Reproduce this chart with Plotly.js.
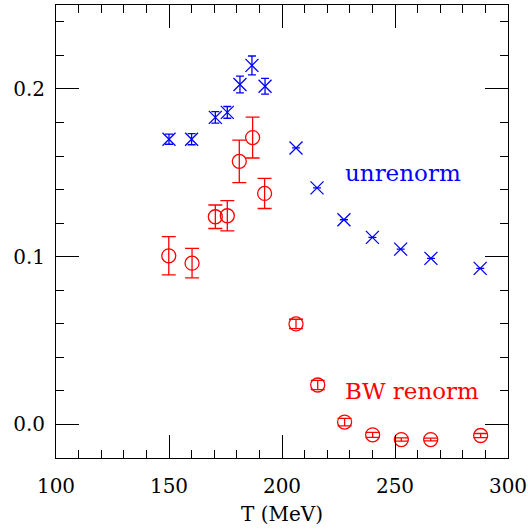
<!DOCTYPE html>
<html>
<head>
<meta charset="utf-8">
<script src="https://cdn.plot.ly/plotly-3.0.1.min.js"></script>
<style>html,body{margin:0;padding:0;background:#fff;}#chart{width:528px;height:529px;}</style>
</head>
<body>
<div id="chart"></div>
<script>
const tUnren = [150, 160, 170.5, 175.8, 181.4, 186.7, 192.5, 206.2, 215.5, 227.4, 240, 252.5, 265.9, 287.7];
const vUnren = [0.170, 0.170, 0.183, 0.186, 0.2026, 0.214, 0.2016, 0.1648, 0.141, 0.122, 0.1115, 0.1045, 0.099, 0.093];
const eUnren = [0.003, 0.0033, 0.0034, 0.0035, 0.005, 0.0056, 0.0047, 0, 0, 0, 0, 0, 0, 0];

const tBW = [149.9, 160.2, 170.5, 175.8, 181.1, 187.0, 192.3, 206.2, 215.8, 227.7, 240.1, 252.8, 265.8, 287.9];
const vBW = [0.1005, 0.0961, 0.1238, 0.1244, 0.1568, 0.171, 0.1377, 0.0599, 0.0235, 0.0014, -0.0062, -0.009, -0.009, -0.0066];
const eBW = [0.0114, 0.0088, 0.007, 0.009, 0.0127, 0.0122, 0.009, 0.0028, 0.0028, 0.0022, 0.0015, 0.001, 0.0008, 0.0012];

const labels = [
  {text: 'unrenorm', x: 227, y: 0.150, color: '#0000ff'},
  {text: 'BW renorm', x: 227, y: 0.020, color: '#ff0000'}
];

const serif = 'DejaVu Serif, Liberation Serif, serif';

const traces = [
  {
    x: tUnren, y: vUnren, type: 'scatter', mode: 'markers',
    marker: {symbol: 'x-thin-open', size: 13, color: '#0000ff', line: {color: '#0000ff', width: 1.3}},
    error_y: {type: 'data', array: eUnren, visible: true, color: '#0000ff', thickness: 1.3, width: 4},
    hoverinfo: 'skip', showlegend: false
  },
  {
    x: tBW, y: vBW, type: 'scatter', mode: 'markers',
    marker: {symbol: 'circle-open', size: 14, color: '#ff0000', line: {color: '#ff0000', width: 1.3}},
    error_y: {type: 'data', array: eBW, visible: true, color: '#ff0000', thickness: 1.3, width: 7},
    hoverinfo: 'skip', showlegend: false
  }
];

const axisCommon = {
  showgrid: false, zeroline: false, showline: true, linecolor: '#000', linewidth: 1,
  mirror: 'allticks', ticks: 'inside', ticklen: 23, tickwidth: 1, tickcolor: '#000',
  tickfont: {family: serif, size: 20, color: '#000'}
};

const layout = {
  width: 528, height: 529,
  margin: {l: 56, r: 20, t: 5, b: 71},
  paper_bgcolor: '#fff', plot_bgcolor: '#fff',
  xaxis: Object.assign({}, axisCommon, {
    range: [100, 300], tick0: 100, dtick: 50,
    minor: {dtick: 10, ticks: 'inside', ticklen: 8, tickcolor: '#000', tickwidth: 1},
    ticklabelstandoff: 10,
    title: {text: 'T (MeV)', font: {family: serif, size: 20, color: '#000'}, standoff: 9}
  }),
  yaxis: Object.assign({}, axisCommon, {
    range: [-0.02, 0.25], tick0: 0, dtick: 0.1, tickformat: '.1f',
    minor: {dtick: 0.02, tick0: 0, ticks: 'inside', ticklen: 8, tickcolor: '#000', tickwidth: 1},
    ticklabelstandoff: 6
  }),
  annotations: labels.map(l => ({
    x: l.x, y: l.y, xref: 'x', yref: 'y', text: l.text, showarrow: false,
    xanchor: 'left', yanchor: 'middle',
    font: {family: serif, size: 23, color: l.color}
  }))
};

Plotly.newPlot('chart', traces, layout, {displayModeBar: false, staticPlot: true});
</script>
</body>
</html>
